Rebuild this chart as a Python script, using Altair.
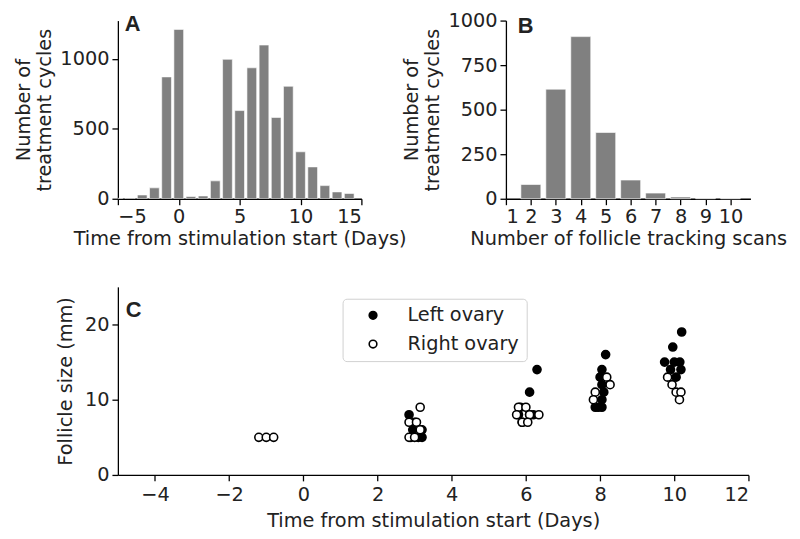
import altair as alt
import pandas as pd

FONT = "DejaVu Sans"
BAR = "#808080"
FS = 19.5

# Panel A: histogram of time from stimulation start
a_days = [-5, -4, -3, -2, -1, 0, 1, 2, 3, 4, 5, 6, 7, 8, 9, 10, 11, 12, 13, 14]
a_counts = [3, 6, 27, 78, 872, 1212, 16, 20, 128, 998, 631, 937, 1100, 582, 805, 336, 228, 94, 49, 38]

# Panel B: number of follicle tracking scans
b_scans = [2, 3, 4, 5, 6, 7, 8, 9, 10]
b_counts = [80, 615, 910, 372, 105, 32, 10, 2, 1]

# Panel C: follicle sizes
left_x = [2.85, 3.0, 2.95, 3.2, 2.9, 3.1, 3.2,
          6.3, 6.1, 5.85, 5.8, 6.2, 5.9, 6.1,
          8.15, 8.05, 8.0, 8.05, 8.1, 8.05, 7.87, 8.05, 7.95,
          10.2, 9.96, 9.74, 10.0, 10.15, 10.18, 9.9, 10.05]
left_y = [8, 7, 6, 6, 5, 5, 5,
          14, 11, 9, 8, 8, 7, 8,
          16, 14, 13, 12, 11, 10, 9, 9, 9,
          19, 17, 15, 15, 15, 14, 14, 13]
right_x = [-1.2, -1.0, -0.8,
           3.15, 2.85, 3.05, 3.15, 2.85, 3.0,
           5.8, 6.0, 5.75, 6.1, 6.35, 5.9, 6.05,
           8.18, 8.27, 7.87, 7.82,
           9.82, 9.94, 10.05, 10.18, 10.14]
right_y = [5, 5, 5,
           9, 7, 7, 6, 5, 5,
           9, 9, 8, 8, 8, 7, 7,
           13, 12, 11, 10,
           13, 12, 11, 11, 10]

dfA = pd.DataFrame({"day": a_days, "count": a_counts})
dfB = pd.DataFrame({"scans": b_scans, "count": b_counts})
dfC = pd.DataFrame({
    "t": left_x + right_x,
    "size": left_y + right_y,
    "side": ["Left ovary"] * len(left_x) + ["Right ovary"] * len(right_x),
    "order": list(range(len(left_x) + len(right_x))),
})

ytitle = ["Number of", "treatment cycles"]


def panel_label(txt, dx, dy):
    return alt.Chart(pd.DataFrame({"t": [txt]})).mark_text(
        fontWeight="bold", fontSize=22, font="Liberation Sans", align="left", baseline="top", color="#222222"
    ).encode(text="t:N", x=alt.value(dx), y=alt.value(dy))


barsA = alt.Chart(dfA).transform_calculate(
    x0="datum.day - 0.4", x1="datum.day + 0.4"
).mark_bar(color=BAR, stroke="white", strokeWidth=0.6, clip=True).encode(
    x=alt.X("x0:Q", scale=alt.Scale(domain=[-5, 15], nice=False, zero=False),
            axis=alt.Axis(values=[-5, 0, 5, 10, 15], title="Time from stimulation start (Days)")),
    x2="x1:Q",
    y=alt.Y("count:Q", scale=alt.Scale(domain=[0, 1275], nice=False),
            axis=alt.Axis(values=[0, 500, 1000], format="d", title=ytitle, titlePadding=5)),
    y2=alt.datum(0),
)
chartA = alt.layer(barsA, panel_label("A", 7, -6)).properties(width=246, height=180)

barsB = alt.Chart(dfB).transform_calculate(
    x0="datum.scans - 0.4", x1="datum.scans + 0.4"
).mark_bar(color=BAR, stroke="white", strokeWidth=0.6).encode(
    x=alt.X("x0:Q", scale=alt.Scale(domain=[1, 10.8], nice=False, zero=False),
            axis=alt.Axis(values=list(range(1, 11)), title="Number of follicle tracking scans")),
    x2="x1:Q",
    y=alt.Y("count:Q", scale=alt.Scale(domain=[0, 1000], nice=False),
            axis=alt.Axis(values=[0, 250, 500, 750, 1000], format="d", title=ytitle, titlePadding=5)),
    y2=alt.datum(0),
)
chartB = alt.layer(barsB, panel_label("B", 12, -4)).properties(width=247, height=180)

pointsC = alt.Chart(dfC).mark_point(
    shape="circle", filled=True, opacity=1, stroke="black", strokeWidth=1.6, size=66
).encode(
    x=alt.X("t:Q", scale=alt.Scale(domain=[-5, 12], nice=False, zero=False),
            axis=alt.Axis(values=list(range(-4, 13, 2)), title="Time from stimulation start (Days)",
                          labelPadding=5, titlePadding=8)),
    y=alt.Y("size:Q", scale=alt.Scale(domain=[0, 25], nice=False),
            axis=alt.Axis(values=[0, 10, 20], title="Follicle size (mm)", titlePadding=9)),
    fill=alt.Fill("side:N", scale=alt.Scale(domain=["Left ovary", "Right ovary"], range=["black", "white"]),
                  legend=alt.Legend(orient="none", legendX=227, legendY=281, title=None,
                                    strokeColor="#d0d0d0", fillColor="white", cornerRadius=4,
                                    padding=7, labelFontSize=FS, labelFont=FONT, labelColor="#222222",
                                    symbolSize=60, symbolStrokeColor="black", symbolStrokeWidth=1.6,
                                    symbolType="circle", labelOffset=25, rowPadding=8,
                                    symbolOffset=14)),
    order=alt.Order("order:Q"),
)
chartC = alt.layer(pointsC, panel_label("C", 8, 13)).properties(width=637, height=190)

top = alt.hconcat(chartA, chartB, spacing=146, bounds="flush")
chart = alt.vconcat(top, chartC, spacing=39).properties(
    padding={"left": 5, "top": 0, "right": 5, "bottom": 5}
).configure_axis(
    labelFont=FONT, titleFont=FONT, labelFontSize=FS, titleFontSize=FS, titleFontWeight="normal",
    titleLineHeight=22,
    grid=False, domainColor="black", tickColor="black", labelColor="#222222", titleColor="#222222",
    tickSize=6, domainWidth=1.3, tickWidth=1.3, labelPadding=3,
).configure_view(stroke=None)

chart.save("out.html", embed_options={"renderer": "svg", "actions": False})
